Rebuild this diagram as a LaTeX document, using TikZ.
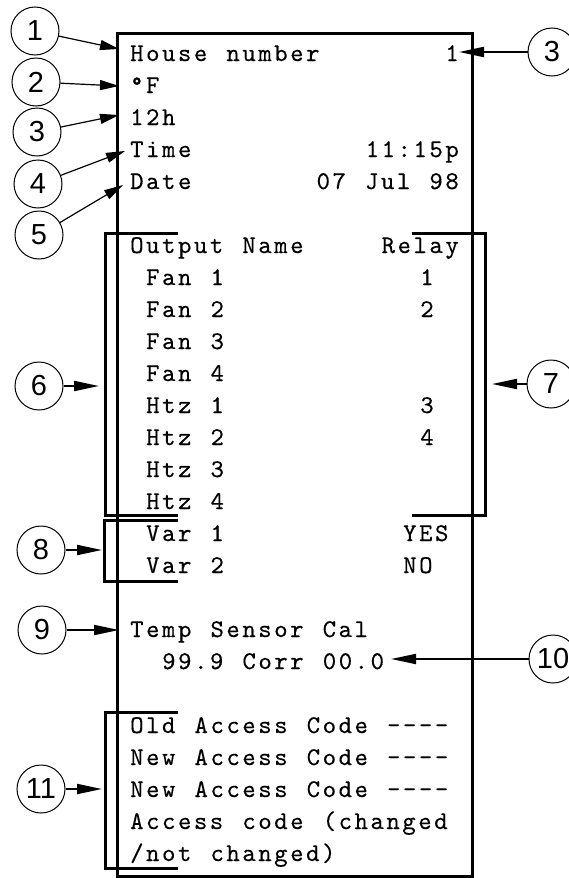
\documentclass[tikz,border=0pt]{standalone}
\usepackage{fontspec}
\usetikzlibrary{arrows.meta}
\newfontfamily\callfont{Liberation Sans}
\newfontfamily\lcd{lmmono10-regular}[Extension=.otf,LetterSpace=10,WordSpace=1.2,FakeBold=0.3]
\begin{document}
\begin{tikzpicture}[x=1pt,y=-1pt,
  callout/.style={circle,draw,line width=1pt,minimum size=48pt,inner sep=0pt,font=\callfont\fontsize{29}{29}\selectfont},
  txt/.style={inner sep=0pt,anchor=base west,font=\lcd\fontsize{25.5}{25.5}\selectfont},
  rtxt/.style={txt,anchor=base east},
  ctxt/.style={txt,anchor=base},
  frame/.style={line width=3pt},
  bracket/.style={line width=3pt},
  thinarrow/.style={line width=1.2pt,-{Triangle[length=19pt,width=10pt]}},
  bigarrow/.style={line width=2pt,-{Triangle[length=25pt,width=10pt]}}]
\useasboundingbox (0,0) rectangle (568,878);
% display frame
\draw[frame] (117,33) rectangle (472,876);
% texts
\node[txt] (house) at (130,61) {House number};
\node[rtxt] (hn) at (459,61) {1};
\node[txt] (deg) at (130,93) {°F};
\node[txt] (h12) at (130,125) {12h};
\node[txt] (time) at (130,157) {Time};
\node[rtxt] (timev) at (459,157) {11:15p};
\node[txt] (date) at (130,189) {Date};
\node[rtxt] (datev) at (459,189) {07 Jul 98};
\node[txt] (outn) at (130,253) {Output Name};
\node[rtxt] (relay) at (459,253) {Relay};
\node[txt] (f1) at (146,285) {Fan 1};
\node[txt] (f2) at (146,317) {Fan 2};
\node[txt] (f3) at (146,349) {Fan 3};
\node[txt] (f4) at (146,381) {Fan 4};
\node[txt] (h1) at (146,413) {Htz 1};
\node[txt] (h2) at (146,445) {Htz 2};
\node[txt] (h3) at (146,477) {Htz 3};
\node[txt] (h4) at (146,509) {Htz 4};
\node[ctxt] (r1) at (427,285) {1};
\node[ctxt] (r2) at (427,317) {2};
\node[ctxt] (r3) at (427,413) {3};
\node[ctxt] (r4) at (427,445) {4};
\node[txt] (v1) at (146,541) {Var 1};
\node[txt] (v2) at (146,573) {Var 2};
\node[txt] (yes) at (403,541) {YES};
\node[txt] (no) at (403,573) {NO};
\node[txt] (temp) at (130,637) {Temp Sensor Cal};
\node[txt] (corr) at (162,669) {99.9 Corr 00.0};
\node[txt] (old) at (130,733) {Old Access Code ----};
\node[txt] (new1) at (130,765) {New Access Code ----};
\node[txt] (new2) at (130,797) {New Access Code ----};
\node[txt] (acc) at (130,829) {Access code (changed};
\node[txt] (notc) at (130,861) {/not changed)};
% brackets
\draw[bracket] (178,233) -- (105,233) -- (105,515) -- (178,515);
\draw[bracket] (178,520) -- (104,520) -- (104,581) -- (178,581);
\draw[bracket] (412,233) -- (485,233) -- (485,515) -- (412,515);
\draw[bracket] (178,712) -- (105,712) -- (105,868) -- (178,868);
% callouts
\node[callout] (c1) at (35,31) {1};
\node[callout] (c2) at (36,82) {2};
\node[callout] (c3) at (37,132) {3};
\node[callout] (c4) at (38,184) {4};
\node[callout] (c5) at (39,235) {5};
\node[callout] (c3r) at (552,52) {3};
\node[callout] (c6) at (39,386) {6};
\node[callout] (c7) at (551,384) {7};
\node[callout] (c8) at (41,550) {8};
\node[callout] (c9) at (42,630) {9};
\node[callout] (c10) at (553,659) {10};
\node[callout] (c11) at (41,789) {11};
% arrow targets
\coordinate (t1) at (119,49);
\coordinate (t2) at (119,86);
\coordinate (t3) at (119,115);
\coordinate (t4) at (125,151);
\coordinate (t5) at (123,185);
\coordinate (t3r) at (459,52);
\coordinate (t6) at (99,386);
\coordinate (t7) at (492,384);
\coordinate (t8) at (102,550);
\coordinate (t9) at (119,630);
\coordinate (t10) at (391,659);
\coordinate (t11) at (102,789);
\draw[thinarrow] (c1) -- (t1);
\draw[thinarrow] (c2) -- (t2);
\draw[thinarrow] (c3) -- (t3);
\draw[thinarrow] (c4) -- (t4);
\draw[thinarrow] (c5) -- (t5);
\draw[bigarrow] (c3r) -- (t3r);
\draw[bigarrow] (c6) -- (t6);
\draw[bigarrow] (c7) -- (t7);
\draw[bigarrow] (c8) -- (t8);
\draw[bigarrow] (c9) -- (t9);
\draw[bigarrow] (c10) -- (t10);
\draw[bigarrow] (c11) -- (t11);
\end{tikzpicture}
\end{document}
